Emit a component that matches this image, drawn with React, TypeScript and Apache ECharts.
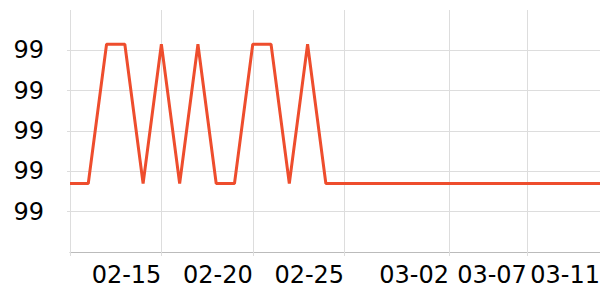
import React, { useEffect, useRef } from "react";
import * as echarts from "echarts";

const dates = [
  "2023-02-10", "2023-02-11", "2023-02-12", "2023-02-13", "2023-02-14",
  "2023-02-15", "2023-02-16", "2023-02-17", "2023-02-18", "2023-02-19",
  "2023-02-20", "2023-02-21", "2023-02-22", "2023-02-23", "2023-02-24",
  "2023-02-25", "2023-02-26", "2023-02-27", "2023-02-28", "2023-03-01",
  "2023-03-02", "2023-03-03", "2023-03-04", "2023-03-05", "2023-03-06",
  "2023-03-07", "2023-03-08", "2023-03-09", "2023-03-10", "2023-03-11",
];
const values = [
  99.37, 99.37, 99.715, 99.715, 99.37,
  99.715, 99.37, 99.715, 99.37, 99.37,
  99.715, 99.715, 99.37, 99.715, 99.37,
  99.37, 99.37, 99.37, 99.37, 99.37,
  99.37, 99.37, 99.37, 99.37, 99.37,
  99.37, 99.37, 99.37, 99.37, 99.37,
];
const xTickTimes = [
  "2023-02-10T00:00:00", "2023-02-15T00:00:00", "2023-02-20T00:00:00",
  "2023-02-25T00:00:00", "2023-03-02T17:45:00", "2023-03-07T00:00:00",
  "2023-03-11T00:00:00",
];
const xLabelTimes = xTickTimes.slice(1);
const yMin = 99.2;
const yMax = 99.8;
const yInterval = 0.1;

const toTs = (s: string) => new Date(s.length === 10 ? s + "T00:00:00" : s).getTime();

export default function App() {
  const ref = useRef<HTMLDivElement>(null);
  useEffect(() => {
    document.body.style.margin = "0";
    const chart = echarts.init(ref.current!, null, { renderer: "svg" });
    const font = { fontFamily: "DejaVu Sans", fontSize: 24, color: "#000" };
    chart.setOption({
      animation: false,
      grid: { left: 70, right: 0, top: 10, bottom: 48, outerBoundsMode: "none" },
      xAxis: {
        type: "value",
        min: toTs(dates[0]),
        max: toTs(dates[dates.length - 1]),
        axisLine: { lineStyle: { color: "#bbb", width: 1 } },
        axisTick: {
          show: true,
          length: 4,
          lineStyle: { color: "#ddd" },
          customValues: xTickTimes.map(toTs),
        },
        splitLine: { show: true, lineStyle: { color: "#ddd" } },
        axisLabel: {
          ...font,
          align: "right",
          margin: 11,
          customValues: xLabelTimes.map(toTs),
          formatter: (v: number) => echarts.time.format(v, "{MM}-{dd}", false),
        },
      },
      yAxis: {
        type: "value",
        min: yMin,
        max: yMax,
        interval: yInterval,
        axisLine: { show: false },
        axisTick: { show: true, length: 3, lineStyle: { color: "#ddd" } },
        splitLine: { show: true, showMaxLine: false, lineStyle: { color: "#ddd" } },
        axisLabel: {
          ...font,
          margin: 26,
          showMinLabel: false,
          showMaxLabel: false,
          formatter: (v: number) => String(Math.floor(v + 1e-9)),
        },
      },
      series: [
        {
          type: "line",
          data: dates.map((d, i) => [toTs(d), values[i]]),
          showSymbol: false,
          symbol: "none",
          lineStyle: { color: "#ee4d2d", width: 3 },
        },
      ],
    });
    return () => chart.dispose();
  }, []);
  return <div ref={ref} style={{ position: "absolute", left: 0, top: 0, width: 600, height: 300 }} />;
}
